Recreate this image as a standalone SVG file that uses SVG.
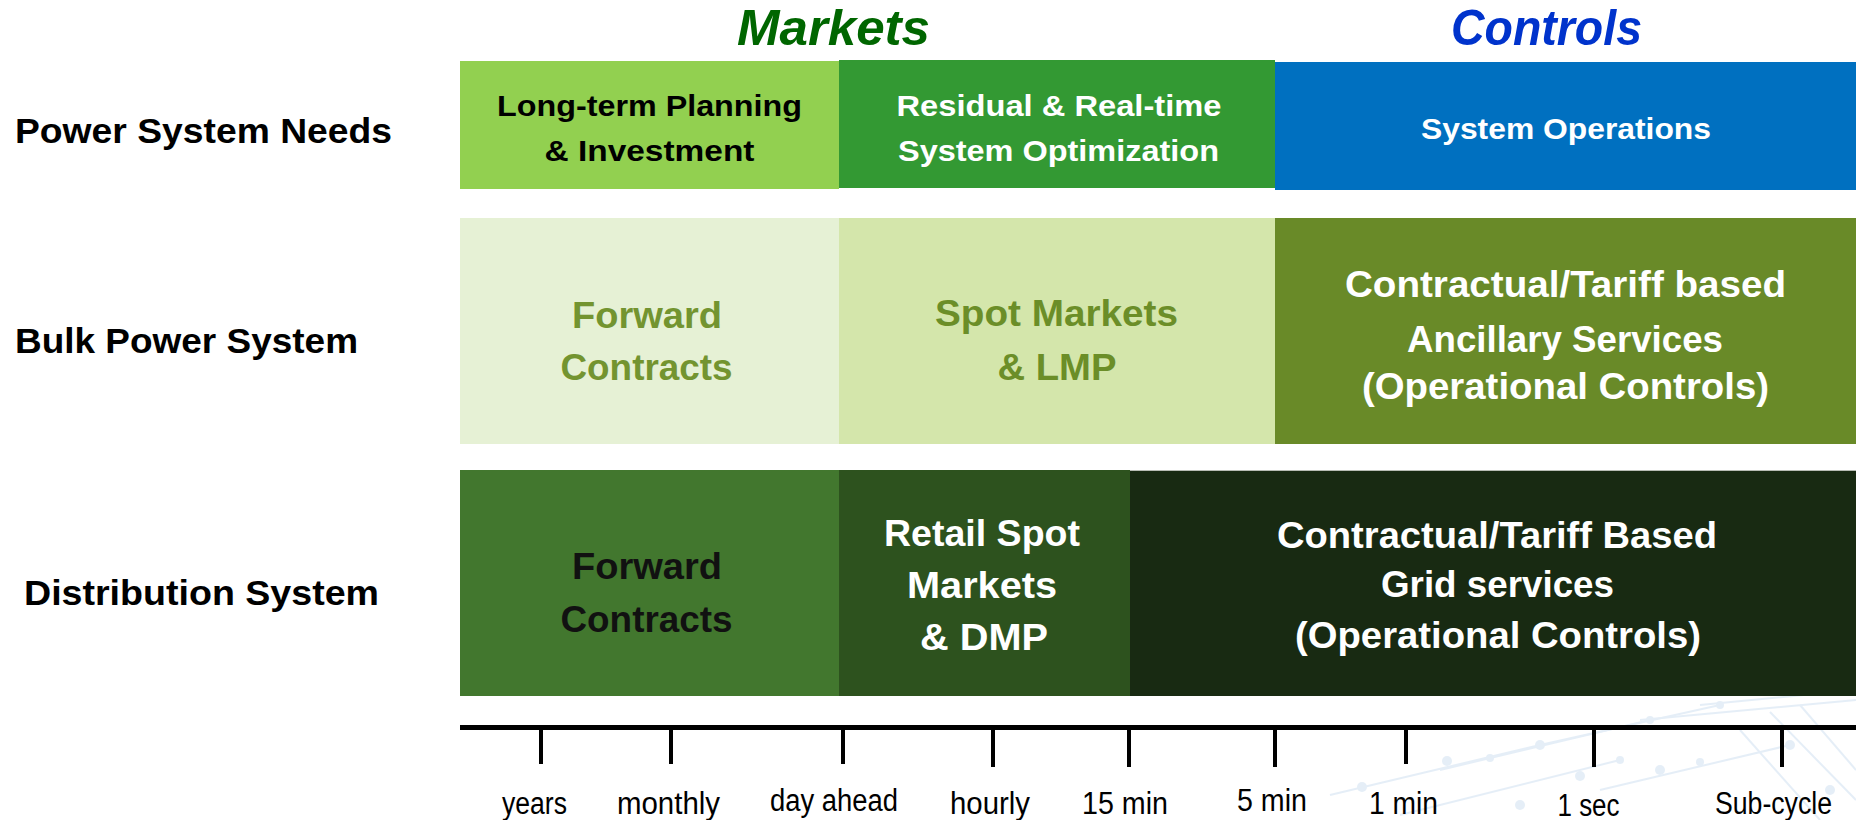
<svg xmlns="http://www.w3.org/2000/svg" width="1856" height="820" viewBox="0 0 1856 820">
<style>
text{font-family:"Liberation Sans",Arial,sans-serif;}
.title{font-weight:bold;font-style:italic;font-size:50px;}
.row{font-weight:bold;font-size:35px;fill:#000;}
.t1{font-weight:bold;font-size:30px;text-anchor:middle;}
.big{font-weight:bold;font-size:36px;text-anchor:middle;}
.ax{font-size:31px;fill:#000;text-anchor:middle;}
.tick{stroke:#000;stroke-width:4;}
.deco line{stroke:#dbe8f5;stroke-width:2;}
.deco circle{fill:#dbe8f5;}
</style>
<rect x="0" y="0" width="1856" height="820" fill="#fff"/>
<g class="deco" opacity="0.7">
<line x1="1330" y1="795" x2="1540" y2="745"/>
<line x1="1400" y1="815" x2="1620" y2="760"/>
<line x1="1440" y1="770" x2="1650" y2="720"/>
<line x1="1540" y1="745" x2="1720" y2="705"/>
<line x1="1600" y1="790" x2="1790" y2="745"/>
<line x1="1700" y1="705" x2="1856" y2="690"/>
<line x1="1640" y1="720" x2="1856" y2="700"/>
<line x1="1770" y1="712" x2="1856" y2="800"/>
<line x1="1800" y1="705" x2="1856" y2="770"/>
<line x1="1740" y1="730" x2="1820" y2="820"/>
<circle cx="1362" cy="787" r="5"/>
<circle cx="1447" cy="761" r="5"/>
<circle cx="1490" cy="758" r="4"/>
<circle cx="1540" cy="745" r="5"/>
<circle cx="1580" cy="776" r="5"/>
<circle cx="1620" cy="760" r="4"/>
<circle cx="1660" cy="770" r="5"/>
<circle cx="1700" cy="762" r="4"/>
<circle cx="1650" cy="720" r="4"/>
<circle cx="1720" cy="705" r="4"/>
<circle cx="1790" cy="745" r="5"/>
<circle cx="1520" cy="805" r="5"/>
<circle cx="1830" cy="790" r="5"/>
</g>
<g id="titles">
<text class="title" x="737" y="45" fill="#006600" textLength="193" lengthAdjust="spacingAndGlyphs">Markets</text>
<text class="title" x="1451" y="45" fill="#0033cc" textLength="191" lengthAdjust="spacingAndGlyphs">Controls</text>
</g>
<g id="row-labels">
<text class="row" x="15" y="143" textLength="377" lengthAdjust="spacingAndGlyphs">Power System Needs</text>
<text class="row" x="15" y="353" textLength="343" lengthAdjust="spacingAndGlyphs">Bulk Power System</text>
<text class="row" x="24" y="605" textLength="355" lengthAdjust="spacingAndGlyphs">Distribution System</text>
</g>
<g id="long-term">
<rect x="460" y="61" width="379" height="128" fill="#92d050"/>
<text class="t1" x="649.5" y="116" fill="#000" textLength="305" lengthAdjust="spacingAndGlyphs">Long-term Planning</text>
<text class="t1" x="649.5" y="161" fill="#000" textLength="210" lengthAdjust="spacingAndGlyphs">&amp; Investment</text>
</g>
<g id="residual">
<rect x="839" y="60" width="436" height="128" fill="#339933"/>
<text class="t1" x="1059" y="116" fill="#fff" textLength="325" lengthAdjust="spacingAndGlyphs">Residual &amp; Real-time</text>
<text class="t1" x="1058.5" y="161" fill="#fff" textLength="321" lengthAdjust="spacingAndGlyphs">System Optimization</text>
</g>
<g id="system-operations">
<rect x="1275" y="62" width="581" height="128" fill="#0070c0"/>
<text class="t1" x="1566" y="139" fill="#fff" textLength="290" lengthAdjust="spacingAndGlyphs">System Operations</text>
</g>
<g id="bulk-forward">
<rect x="460" y="218" width="379" height="226" fill="#e6f1d5"/>
<text class="big" x="647" y="328" fill="#739430" font-size="37" textLength="150" lengthAdjust="spacingAndGlyphs">Forward</text>
<text class="big" x="646.5" y="380" fill="#739430" font-size="37" textLength="172" lengthAdjust="spacingAndGlyphs">Contracts</text>
</g>
<g id="bulk-spot">
<rect x="839" y="218" width="436" height="226" fill="#d4e6ab"/>
<text class="big" x="1056.5" y="326" fill="#6b8e28" font-size="35" textLength="243" lengthAdjust="spacingAndGlyphs">Spot Markets</text>
<text class="big" x="1057" y="380" fill="#6b8e28" font-size="35" textLength="119" lengthAdjust="spacingAndGlyphs">&amp; LMP</text>
</g>
<g id="bulk-ancillary">
<rect x="1275" y="218" width="581" height="226" fill="#698a28"/>
<text class="big" x="1565.5" y="297" fill="#fff" font-size="34" textLength="441" lengthAdjust="spacingAndGlyphs">Contractual/Tariff based</text>
<text class="big" x="1565" y="352" fill="#fff" font-size="34" textLength="316" lengthAdjust="spacingAndGlyphs">Ancillary Services</text>
<text class="big" x="1565.5" y="399" fill="#fff" font-size="34" textLength="407" lengthAdjust="spacingAndGlyphs">(Operational Controls)</text>
</g>
<g id="dist-forward">
<rect x="460" y="470" width="379" height="226" fill="#42772e"/>
<text class="big" x="647" y="579" fill="#111" font-size="37" textLength="150" lengthAdjust="spacingAndGlyphs">Forward</text>
<text class="big" x="646.5" y="632" fill="#111" font-size="37" textLength="172" lengthAdjust="spacingAndGlyphs">Contracts</text>
</g>
<g id="dist-retail">
<rect x="839" y="470" width="291" height="226" fill="#2d521e"/>
<text class="big" x="982" y="546" fill="#fff" textLength="196" lengthAdjust="spacingAndGlyphs">Retail Spot</text>
<text class="big" x="982" y="598" fill="#fff" textLength="150" lengthAdjust="spacingAndGlyphs">Markets</text>
<text class="big" x="984" y="650" fill="#fff" textLength="128" lengthAdjust="spacingAndGlyphs">&amp; DMP</text>
</g>
<g id="dist-grid">
<rect x="1130" y="470" width="726" height="226" fill="#182a12"/>
<line x1="1130" y1="470.5" x2="1856" y2="470.5" stroke="#b8bdb4" stroke-width="1"/>
<text class="big" x="1497" y="548" fill="#fff" textLength="440" lengthAdjust="spacingAndGlyphs">Contractual/Tariff Based</text>
<text class="big" x="1497.5" y="597" fill="#fff" textLength="233" lengthAdjust="spacingAndGlyphs">Grid services</text>
<text class="big" x="1498" y="648" fill="#fff" textLength="406" lengthAdjust="spacingAndGlyphs">(Operational Controls)</text>
</g>
<g id="connectors">
<line x1="460" y1="727.5" x2="1856" y2="727.5" stroke="#000" stroke-width="5"/>
<line class="tick" x1="541" y1="727" x2="541" y2="764"/>
<line class="tick" x1="671" y1="727" x2="671" y2="764"/>
<line class="tick" x1="843" y1="727" x2="843" y2="764"/>
<line class="tick" x1="993" y1="727" x2="993" y2="767"/>
<line class="tick" x1="1129" y1="727" x2="1129" y2="767"/>
<line class="tick" x1="1275" y1="727" x2="1275" y2="767"/>
<line class="tick" x1="1406" y1="727" x2="1406" y2="764"/>
<line class="tick" x1="1594" y1="727" x2="1594" y2="767"/>
<line class="tick" x1="1782" y1="727" x2="1782" y2="767"/>
</g>
<g id="axis-labels">
<text class="ax" x="534.5" y="814" textLength="65" lengthAdjust="spacingAndGlyphs">years</text>
<text class="ax" x="668.5" y="814" textLength="103" lengthAdjust="spacingAndGlyphs">monthly</text>
<text class="ax" x="834" y="811" textLength="128" lengthAdjust="spacingAndGlyphs">day ahead</text>
<text class="ax" x="990" y="814" textLength="80" lengthAdjust="spacingAndGlyphs">hourly</text>
<text class="ax" x="1125" y="814" textLength="86" lengthAdjust="spacingAndGlyphs">15 min</text>
<text class="ax" x="1272" y="811" textLength="70" lengthAdjust="spacingAndGlyphs">5 min</text>
<text class="ax" x="1403.5" y="814" textLength="69" lengthAdjust="spacingAndGlyphs">1 min</text>
<text class="ax" x="1588.5" y="816" textLength="62" lengthAdjust="spacingAndGlyphs">1 sec</text>
<text class="ax" x="1773.5" y="814" textLength="117" lengthAdjust="spacingAndGlyphs">Sub-cycle</text>
</g>
</svg>
